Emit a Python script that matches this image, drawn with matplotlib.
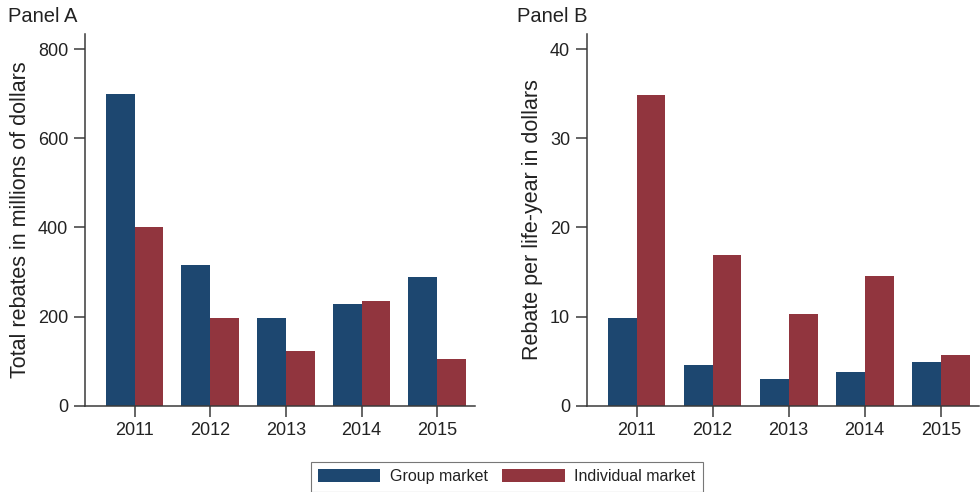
import matplotlib.pyplot as plt
import numpy as np
from matplotlib.patches import Patch

plt.rcParams['font.family'] = ['Liberation Sans', 'DejaVu Sans']

years = ['2011', '2012', '2013', '2014', '2015']

# Panel A: total rebates (millions of dollars)
group_total = [700, 315, 197, 229, 289]
indiv_total = [401, 197, 123, 234, 105]

# Panel B: rebate per life-year (dollars)
group_per = [9.8, 4.55, 3.0, 3.8, 4.9]
indiv_per = [34.85, 16.9, 10.3, 14.6, 5.7]

blue = '#1d4770'
red = '#91353e'
axis_col = '#3a3a3a'
text_col = '#222222'

fig = plt.figure(figsize=(9.8, 4.92), dpi=100)
axA = fig.add_axes([0.0867, 0.1754, 0.398, 0.7556])
axB = fig.add_axes([0.5987, 0.1754, 0.400, 0.7556])

x = np.arange(len(years))
w = 0.38


def style(ax, ylim, yticks, ylabel):
    ax.set_xlim(-0.655, 4.5)
    ax.set_ylim(*ylim)
    ax.set_yticks(yticks)
    ax.set_xticks(x)
    ax.set_xticklabels(years)
    for s in ['top', 'right']:
        ax.spines[s].set_visible(False)
    for s in ['left', 'bottom']:
        ax.spines[s].set_color(axis_col)
        ax.spines[s].set_linewidth(1.1)
    ax.tick_params(axis='both', length=8, width=1.1, color=axis_col,
                   labelsize=13, labelcolor=text_col, pad=4)
    ax.set_ylabel(ylabel, fontsize=15.5, color=text_col, labelpad=5)


axA.bar(x - w / 2, group_total, w, color=blue)
axA.bar(x + w / 2, indiv_total, w, color=red)
style(axA, (0, 834), [0, 200, 400, 600, 800],
      'Total rebates in millions of dollars')

axB.bar(x - w / 2, group_per, w, color=blue)
axB.bar(x + w / 2, indiv_per, w, color=red)
style(axB, (0, 41.7), [0, 10, 20, 30, 40],
      'Rebate per life-year in dollars')

fig.text(0.008, 0.966, 'Panel A', fontsize=14.5, color=text_col, va='center')
fig.text(0.528, 0.966, 'Panel B', fontsize=14.5, color=text_col, va='center')

handles = [Patch(facecolor=blue, label='Group market'),
           Patch(facecolor=red, label='Individual market')]
leg = fig.legend(handles=handles, loc='center', bbox_to_anchor=(0.517, 0.031),
                 ncol=2, fontsize=11.5, frameon=True, fancybox=False,
                 handlelength=3.9, handleheight=0.9, columnspacing=0.9,
                 handletextpad=0.6, borderpad=0.45, borderaxespad=0,
                 edgecolor='#555555')
leg.get_frame().set_linewidth(0.8)
for t in leg.get_texts():
    t.set_color(text_col)

fig.savefig('out.png', dpi=100)
